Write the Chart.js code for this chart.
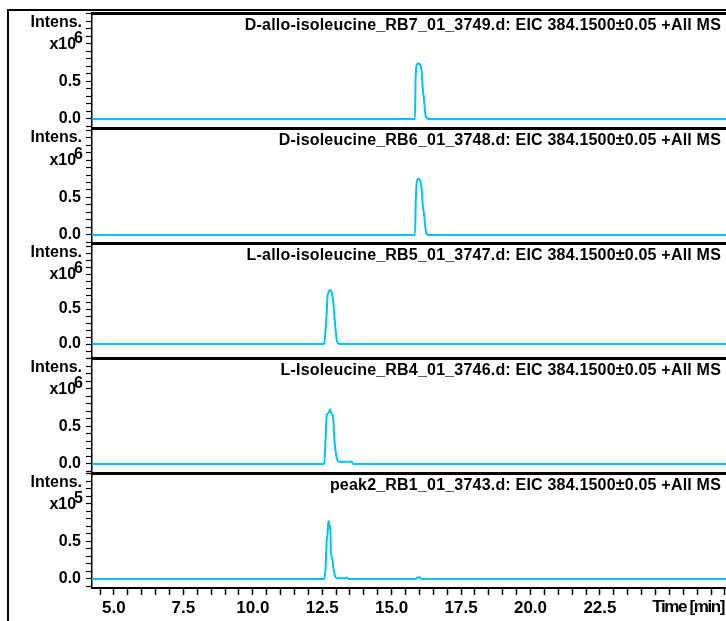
<!DOCTYPE html>
<html><head><meta charset="utf-8">
<script src="https://cdn.jsdelivr.net/npm/chart.js@4"></script>
<style>
html,body{margin:0;padding:0;background:#fff;width:726px;height:621px;overflow:hidden}
#wrap{position:relative;width:726px;height:621px}
canvas.p{position:absolute;left:0}
#frame{position:absolute;left:7px;top:9px;width:730px;height:620px;border-left:2px solid #000;border-top:2px solid #000}
</style></head><body>
<div id="wrap"><div id="frame"></div>
<canvas id="c1" class="p" width="726" height="117" style="top:11px"></canvas>
<canvas id="c2" class="p" width="726" height="117" style="top:126px"></canvas>
<canvas id="c3" class="p" width="726" height="117" style="top:241px"></canvas>
<canvas id="c4" class="p" width="726" height="117" style="top:356px"></canvas>
<canvas id="c5" class="p" width="726" height="150" style="top:471px"></canvas>
</div>
<script>
// ---- data ----
const timeStart = 4.21, timeEnd = 27.04;
const titles = [
  'D-allo-isoleucine_RB7_01_3749.d: EIC 384.1500\u00b10.05 +All MS',
  'D-isoleucine_RB6_01_3748.d: EIC 384.1500\u00b10.05 +All MS',
  'L-allo-isoleucine_RB5_01_3747.d: EIC 384.1500\u00b10.05 +All MS',
  'L-Isoleucine_RB4_01_3746.d: EIC 384.1500\u00b10.05 +All MS',
  'peak2_RB1_01_3743.d: EIC 384.1500\u00b10.05 +All MS'
];
const exponents = ['6','6','6','6','5'];
const yMins = [-0.12, -0.107, -0.2, -0.12, -0.12];
const yMaxs = [1.413, 1.427, 1.443, 1.413, 1.413];
const yTickValues = [-0.2,-0.1,0,0.1,0.2,0.3,0.4,0.5,0.6,0.7,0.8,0.9,1.0,1.1,1.2,1.3,1.4];
const yLabelValues = [0, 0.5];
const xTickValues = [4.5,5,5.5,6,6.5,7,7.5,8,8.5,9,9.5,10,10.5,11,11.5,12,12.5,13,13.5,14,14.5,15,15.5,16,16.5,17,17.5,18,18.5,19,19.5,20,20.5,21,21.5,22,22.5,23,23.5,24,24.5,25,25.5,26,26.5,27];
const xLabelValues = [5, 7.5, 10, 12.5, 15, 17.5, 20, 22.5];
const xAxisTitle = 'Time [min]';

const t1 = [4.21, 15.84, 15.86, 15.90, 15.95, 16.02, 16.08, 16.12, 16.16, 16.22, 16.28, 16.32, 27.04];
const v1 = [0, 0, 0.50, 0.72, 0.74, 0.73, 0.63, 0.41, 0.28, 0.05, 0.01, 0, 0];
const t2 = [4.21, 15.84, 15.87, 15.91, 15.96, 16.02, 16.08, 16.12, 16.17, 16.23, 16.28, 16.32, 27.04];
const v2 = [0, 0, 0.48, 0.72, 0.75, 0.73, 0.62, 0.40, 0.27, 0.05, 0.01, 0, 0];
const t3 = [4.21, 12.57, 12.62, 12.66, 12.69, 12.72, 12.78, 12.84, 12.90, 12.96, 13.02, 13.08, 13.14, 27.04];
const v3 = [0, 0, 0.20, 0.44, 0.68, 0.73, 0.77, 0.74, 0.59, 0.30, 0.06, 0.01, 0, 0];
const t4 = [4.21, 12.57, 12.62, 12.66, 12.72, 12.75, 12.78, 12.81, 12.86, 12.90, 12.93, 12.98, 13.04, 13.10, 13.56, 13.62, 27.04];
const v4 = [0, 0, 0.33, 0.64, 0.68, 0.70, 0.73, 0.69, 0.66, 0.59, 0.37, 0.17, 0.06, 0.03, 0.03, 0, 0];
const t5 = [4.21, 12.57, 12.62, 12.66, 12.69, 12.72, 12.74, 12.75, 12.78, 12.80, 12.81, 12.86, 12.90, 12.96, 13.02, 13.32, 13.38, 13.44, 15.87, 15.92, 16.02, 16.08, 27.04];
const v5 = [0, 0, 0.15, 0.50, 0.59, 0.77, 0.77, 0.68, 0.72, 0.59, 0.37, 0.28, 0.15, 0.04, 0.01, 0.01, 0.02, 0, 0, 0.02, 0.02, 0, 0];

const seriesTimes = [t1, t2, t3, t4, t5];
const seriesValues = [v1, v2, v3, v4, v5];

// ---- styles ----
const FAM = '"Liberation Sans", Arial, sans-serif';
const LINE = '#00c3f5';

function noPad(s) { s.paddingTop = 0; s.paddingBottom = 0; s.paddingLeft = 0; s.paddingRight = 0; }

const deco = {
  id: 'deco',
  afterDraw(chart, args, o) {
    const ctx = chart.ctx, a = chart.chartArea, ys = chart.scales.y;
    ctx.save();
    ctx.fillStyle = '#000';
    ctx.textBaseline = 'middle';
    ctx.textAlign = 'right';
    ctx.font = 'bold 16px ' + FAM;
    ctx.letterSpacing = '0px';
    ctx.fillText('Intens.', 82, a.top + 10);
    const py = ys.getPixelForValue(1.0);
    const sw = ctx.measureText(o.exp).width;
    ctx.fillText(o.exp, 83, py - 5);
    ctx.fillText('x10', 83 - sw + 2, py + 1);
    // title
    ctx.font = 'bold 16px ' + FAM;
    ctx.letterSpacing = '0.2px';
    ctx.fillText(o.title, 721, a.top + 13);
    if (o.xTitle) {
      ctx.font = 'bold 17px ' + FAM;
      ctx.letterSpacing = '-1.4px';
      ctx.fillText(o.xTitle, 724, chart.scales.x.bottom - 14);
    }
    ctx.restore();
  }
};

function makeChart(id, i) {
  const hasX = i === 4;
  const pts = seriesTimes[i].map((t, k) => ({x: t, y: seriesValues[i][k]}));
  new Chart(document.getElementById(id), {
    type: 'line',
    data: {datasets: [{data: pts, xAxisID: 'x', yAxisID: 'y', borderColor: LINE, borderWidth: 2,
      pointRadius: 0, cubicInterpolationMode: 'monotone', fill: false}]},
    options: {
      responsive: false, maintainAspectRatio: false, animation: false, devicePixelRatio: 1,
      layout: {padding: 0},
      plugins: {legend: {display: false}, tooltip: {enabled: false},
        deco: {title: titles[i], exp: exponents[i], xTitle: hasX ? xAxisTitle : null}},
      scales: {
        x: {type: 'linear', position: 'bottom', min: timeStart, max: timeEnd, display: hasX,
          afterFit(s) { noPad(s); s.height = hasX ? 33 : 0; },
          afterBuildTicks(s) { s.ticks = xTickValues.map(v => ({value: v})); },
          grid: {drawOnChartArea: false, tickLength: 7, color: '#000', tickColor: '#000', tickWidth: 1.5},
          border: {color: '#000', width: 2},
          ticks: {autoSkip: false, maxRotation: 0, padding: 3, color: '#000',
            font: {family: FAM, weight: 'bold', size: 17},
            callback: v => xLabelValues.some(l => Math.abs(l - v) < 1e-6) ? v.toFixed(1) : ''}
        },
        xt: {type: 'linear', position: 'top', min: timeStart, max: timeEnd, display: true,
          afterFit(s) { noPad(s); s.height = 2; },
          grid: {drawOnChartArea: false, drawTicks: false},
          ticks: {display: false},
          border: {color: '#000', width: 3}
        },
        y: {type: 'linear', min: yMins[i], max: yMaxs[i],
          afterFit(s) { noPad(s); s.width = 92; },
          afterBuildTicks(s) { s.ticks = yTickValues.filter(v => v >= yMins[i] && v <= yMaxs[i]).map(v => ({value: v})); },
          grid: {drawOnChartArea: false, tickLength: 6, color: '#000', tickColor: '#000', tickWidth: 1.2},
          border: {color: '#000', width: 1.5},
          ticks: {autoSkip: false, padding: 5, color: '#000',
            font: {family: FAM, weight: 'bold', size: 16},
            callback: v => yLabelValues.some(l => Math.abs(l - v) < 1e-6) ? v.toFixed(1) : ''}
        }
      }
    },
    plugins: [deco]
  });
}
['c1','c2','c3','c4','c5'].forEach((id, i) => makeChart(id, i));
</script>
</body></html>
